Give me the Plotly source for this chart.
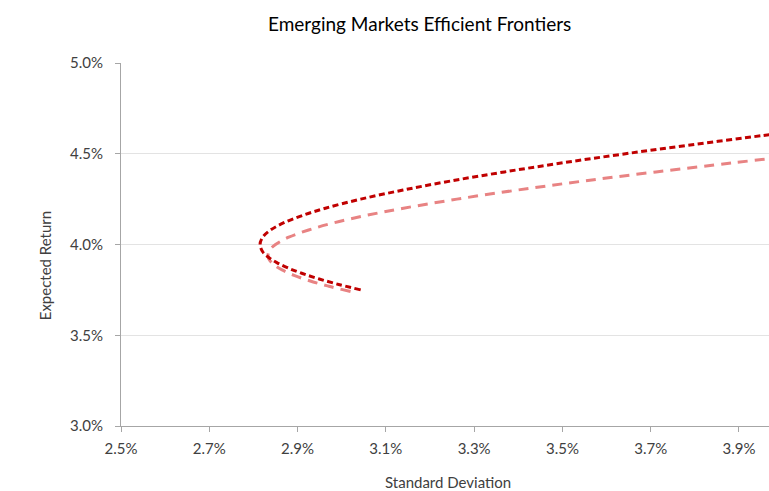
import plotly.graph_objects as go

# Efficient frontier points (standard deviation %, expected return %)
dark_sd = [3.043, 2.993, 2.949, 2.911, 2.879, 2.853, 2.834, 2.821, 2.815, 2.821,
           2.839, 2.869, 2.911, 2.963, 3.043, 3.139, 3.247, 3.369, 3.501, 3.643,
           3.794, 3.953, 4.019]
dark_ret = [3.75, 3.78, 3.81, 3.84, 3.87, 3.90, 3.93, 3.96, 4.00, 4.04,
            4.08, 4.12, 4.16, 4.20, 4.25, 4.30, 4.35, 4.40, 4.45, 4.50,
            4.55, 4.60, 4.62]

light_sd = [3.020, 2.971, 2.927, 2.892, 2.865, 2.846, 2.835, 2.833, 2.837, 2.850,
            2.880, 2.925, 2.983, 3.055, 3.140, 3.261, 3.398, 3.549, 3.712, 3.886,
            3.995]
light_ret = [3.741, 3.77, 3.80, 3.83, 3.86, 3.89, 3.92, 3.94, 3.97, 4.00,
             4.04, 4.08, 4.12, 4.16, 4.20, 4.25, 4.30, 4.35, 4.40, 4.45,
             4.48]

x_ticks = [2.5, 2.7, 2.9, 3.1, 3.3, 3.5, 3.7, 3.9]
y_ticks = [3.0, 3.5, 4.0, 4.5, 5.0]
x_labels = ["2.5%", "2.7%", "2.9%", "3.1%", "3.3%", "3.5%", "3.7%", "3.9%"]
y_labels = ["3.0%", "3.5%", "4.0%", "4.5%", "5.0%"]

FONT = "Lato, Noto Sans, Arial, sans-serif"

fig = go.Figure()
fig.add_trace(go.Scatter(
    x=light_sd, y=light_ret, mode="lines", line_shape="spline",
    line=dict(color="#E88383", width=3, dash="10px,7px"),
    hoverinfo="skip", showlegend=False))
fig.add_trace(go.Scatter(
    x=dark_sd, y=dark_ret, mode="lines", line_shape="spline",
    line=dict(color="#C00000", width=3, dash="6px,3.5px"),
    hoverinfo="skip", showlegend=False))

axis_common = dict(
    showline=True, linecolor="#A6A6A6", linewidth=1,
    ticks="outside", ticklen=5, tickcolor="#A6A6A6",
    tickfont=dict(family=FONT, size=15, color="#404040"),
    zeroline=False,
)

fig.update_layout(
    width=769, height=491,
    margin=dict(l=121, r=0, t=63, b=65),
    paper_bgcolor="white", plot_bgcolor="white",
    font=dict(family=FONT, color="#404040"),
    xaxis=dict(range=[2.5, 3.968], tickvals=x_ticks, ticktext=x_labels,
               showgrid=False, ticklabelstandoff=4, **axis_common),
    yaxis=dict(range=[3.0, 5.0], tickvals=y_ticks, ticktext=y_labels,
               showgrid=True, gridcolor="#E3E3E3", gridwidth=1,
               ticklabelstandoff=9, **axis_common),
    annotations=[
        dict(text="Emerging Markets Efficient Frontiers", xref="paper", yref="paper",
             x=0.4614, y=1, yshift=40, showarrow=False, xanchor="center",
             yanchor="middle", font=dict(family=FONT, size=19, color="black")),
        dict(text="Standard Deviation", xref="paper", yref="paper",
             x=0.505, y=0, yshift=-56, showarrow=False, xanchor="center",
             yanchor="middle", font=dict(family=FONT, size=15, color="#404040")),
        dict(text="Expected Return", xref="paper", yref="paper",
             x=0, xshift=-76, y=0.44, showarrow=False, textangle=-90,
             xanchor="center", yanchor="middle",
             font=dict(family=FONT, size=15, color="#404040")),
    ],
)

fig.write_html("out.html")
